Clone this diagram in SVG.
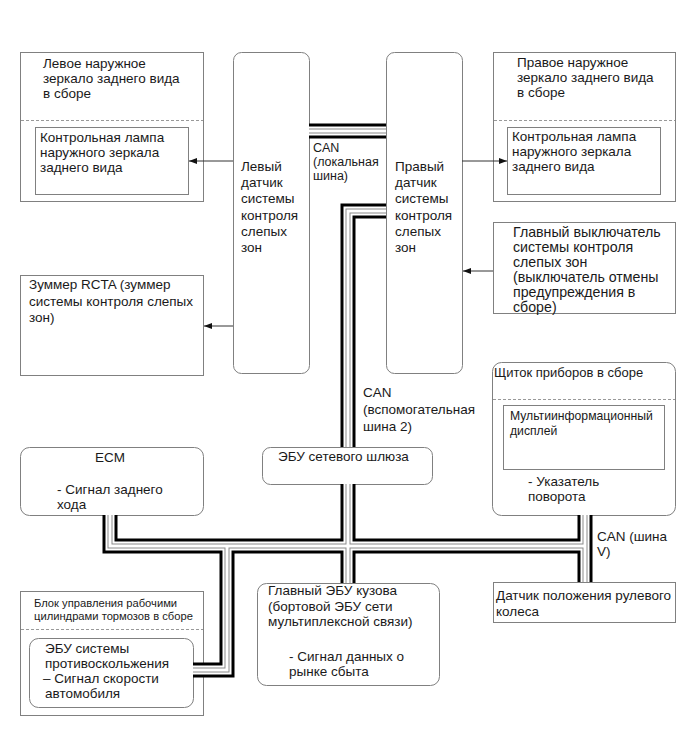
<svg xmlns="http://www.w3.org/2000/svg" xmlns:xlink="http://www.w3.org/1999/xlink" width="690" height="756" viewBox="0 0 690 756">
<style>
  .bx { fill: #fff; stroke: #808080; stroke-width: 1; }
  .dash { stroke: #999; stroke-width: 1; stroke-dasharray: 3 2; fill: none; }
  text { font-family: "Liberation Sans", Arial, sans-serif; font-size: 13.5px; fill: #1a1a1a; }
  .md { font-size: 14.2px; }
  .sm { font-size: 12.5px; }
  .ti { font-size: 13px; }
  .xs { font-size: 11.2px; }
  .mi { font-size: 12.2px; }
  .c1 { fill: none; stroke: #000; stroke-width: 15; stroke-linejoin: miter; }
  .c2 { fill: none; stroke: #fff; stroke-width: 9; stroke-linejoin: miter; }
  .c3 { fill: none; stroke: #8a8a8a; stroke-width: 5; stroke-linejoin: miter; }
  .c4 { fill: none; stroke: #fff; stroke-width: 3; stroke-linejoin: miter; }
  .ln { stroke: #333; stroke-width: 1; fill: none; }
</style>
<defs>
  <path id="bus" d="M309,131 H386 M386,211 H348 V447 M348,484 V583 M110,515 V546 H585 M585,515 V582 M227,546 V670 H193"/>
  <marker id="ah" markerWidth="8" markerHeight="6" refX="8" refY="3" orient="auto" markerUnits="userSpaceOnUse">
    <path d="M0,0 L8,3 L0,6 Z" fill="#111"/>
  </marker>
</defs>

<g id="left-mirror">
  <rect class="bx" x="20.5" y="52.5" width="183" height="149"/>
  <line class="dash" x1="21" y1="120.5" x2="203" y2="120.5"/>
  <text x="43" y="68">Левое наружное</text>
  <text x="43" y="83">зеркало заднего вида</text>
  <text x="43" y="98">в сборе</text>
  <rect class="bx" x="35.5" y="127.5" width="153" height="67"/>
  <text x="40" y="142">Контрольная лампа</text>
  <text x="40" y="157">наружного зеркала</text>
  <text x="40" y="172">заднего вида</text>
</g>

<g id="left-sensor">
  <rect class="bx" x="233.5" y="52.5" width="76" height="321" rx="8"/>
  <text x="241" y="171">Левый</text>
  <text x="241" y="187">датчик</text>
  <text x="241" y="203">системы</text>
  <text x="241" y="219.5">контроля</text>
  <text x="241" y="236">слепых</text>
  <text x="241" y="252">зон</text>
</g>

<g id="right-sensor">
  <rect class="bx" x="386.5" y="52.5" width="76" height="321" rx="8"/>
  <text x="395" y="171">Правый</text>
  <text x="395" y="187">датчик</text>
  <text x="395" y="203">системы</text>
  <text x="395" y="219.5">контроля</text>
  <text x="395" y="236">слепых</text>
  <text x="395" y="252">зон</text>
</g>

<g id="can-local-label">
  <text class="sm" x="313" y="152">CAN</text>
  <text class="sm" x="313" y="166">(локальная</text>
  <text class="sm" x="313" y="180">шина)</text>
</g>

<g id="right-mirror">
  <rect class="bx" x="493.5" y="52.5" width="182" height="149"/>
  <line class="dash" x1="494" y1="120.5" x2="675" y2="120.5"/>
  <text x="517" y="67">Правое наружное</text>
  <text x="517" y="82">зеркало заднего вида</text>
  <text x="517" y="97">в сборе</text>
  <rect class="bx" x="507.5" y="127.5" width="153" height="67"/>
  <text x="512" y="141">Контрольная лампа</text>
  <text x="512" y="156">наружного зеркала</text>
  <text x="512" y="171">заднего вида</text>
</g>

<g id="main-switch">
  <rect class="bx" x="493.5" y="222.5" width="182" height="91"/>
  <text class="md" x="513" y="236.5">Главный выключатель</text>
  <text class="md" x="513" y="251.5">системы контроля</text>
  <text class="md" x="513" y="266.5">слепых зон</text>
  <text class="md" x="513" y="281.5">(выключатель отмены</text>
  <text class="md" x="513" y="296.5">предупреждения в</text>
  <text class="md" x="513" y="311.5">сборе)</text>
</g>

<g id="rcta-buzzer">
  <rect class="bx" x="20.5" y="275.5" width="183" height="100"/>
  <text x="29" y="289">Зуммер RCTA (зуммер</text>
  <text x="29" y="305.5">системы контроля слепых</text>
  <text x="29" y="322">зон)</text>
</g>

<g id="can-sub2-label">
  <text x="363" y="397">CAN</text>
  <text x="363" y="414">(вспомогательная</text>
  <text x="363" y="431">шина 2)</text>
</g>

<g id="gateway">
  <rect class="bx" x="262.5" y="447.5" width="170" height="37" rx="8"/>
  <text x="278" y="461">ЭБУ сетевого шлюза</text>
</g>

<g id="ecm">
  <rect class="bx" x="20.5" y="447.5" width="183" height="68" rx="9"/>
  <text x="110" y="462" text-anchor="middle">ECM</text>
  <text x="57" y="494">- Сигнал заднего</text>
  <text x="57" y="509">хода</text>
</g>

<g id="instrument-cluster">
  <rect class="bx" x="492.5" y="362.5" width="183" height="153" rx="9"/>
  <text class="ti" x="494" y="377">Щиток приборов в сборе</text>
  <line class="dash" x1="493" y1="399.5" x2="675" y2="399.5"/>
  <rect class="bx" x="503.5" y="405.5" width="161" height="64"/>
  <text class="mi" x="510" y="420">Мультиинформационный</text>
  <text class="mi" x="510" y="435">дисплей</text>
  <text x="528" y="486">- Указатель</text>
  <text x="528" y="501">поворота</text>
</g>

<g id="can-v-label">
  <text x="597" y="541">CAN (шина</text>
  <text x="597" y="556">V)</text>
</g>

<g id="steering-sensor">
  <rect class="bx" x="493.5" y="582.5" width="182" height="40"/>
  <text x="496" y="600">Датчик положения рулевого</text>
  <text x="496" y="616">колеса</text>
</g>

<g id="body-ecu">
  <rect class="bx" x="257.5" y="583.5" width="182" height="102" rx="9"/>
  <text x="268" y="595">Главный ЭБУ кузова</text>
  <text x="268" y="611">(бортовой ЭБУ сети</text>
  <text x="268" y="626">мультиплексной связи)</text>
  <text x="289" y="661">- Сигнал данных о</text>
  <text x="289" y="676">рынке сбыта</text>
</g>

<g id="brake-actuator">
  <rect class="bx" x="20.5" y="591.5" width="183" height="124"/>
  <text class="xs" x="34" y="607">Блок управления рабочими</text>
  <text class="xs" x="34" y="620">цилиндрами тормозов в сборе</text>
  <line class="dash" x1="21" y1="629.5" x2="203" y2="629.5"/>
  <rect class="bx" x="29.5" y="638.5" width="164" height="69" rx="9"/>
  <text x="45" y="653">ЭБУ системы</text>
  <text x="45" y="668">противоскольжения</text>
  <text x="43" y="683">– Сигнал скорости</text>
  <text x="45" y="698">автомобиля</text>
</g>

<g id="connectors">
  <use xlink:href="#bus" class="c1"/>
  <use xlink:href="#bus" class="c2"/>
  <use xlink:href="#bus" class="c3"/>
  <use xlink:href="#bus" class="c4"/>
  <line class="ln" x1="233" y1="161" x2="189" y2="161" marker-end="url(#ah)"/>
  <line class="ln" x1="233" y1="326" x2="204" y2="326" marker-end="url(#ah)"/>
  <line class="ln" x1="462" y1="161" x2="507" y2="161" marker-end="url(#ah)"/>
  <line class="ln" x1="493" y1="271" x2="463" y2="271" marker-end="url(#ah)"/>
</g>
</svg>
